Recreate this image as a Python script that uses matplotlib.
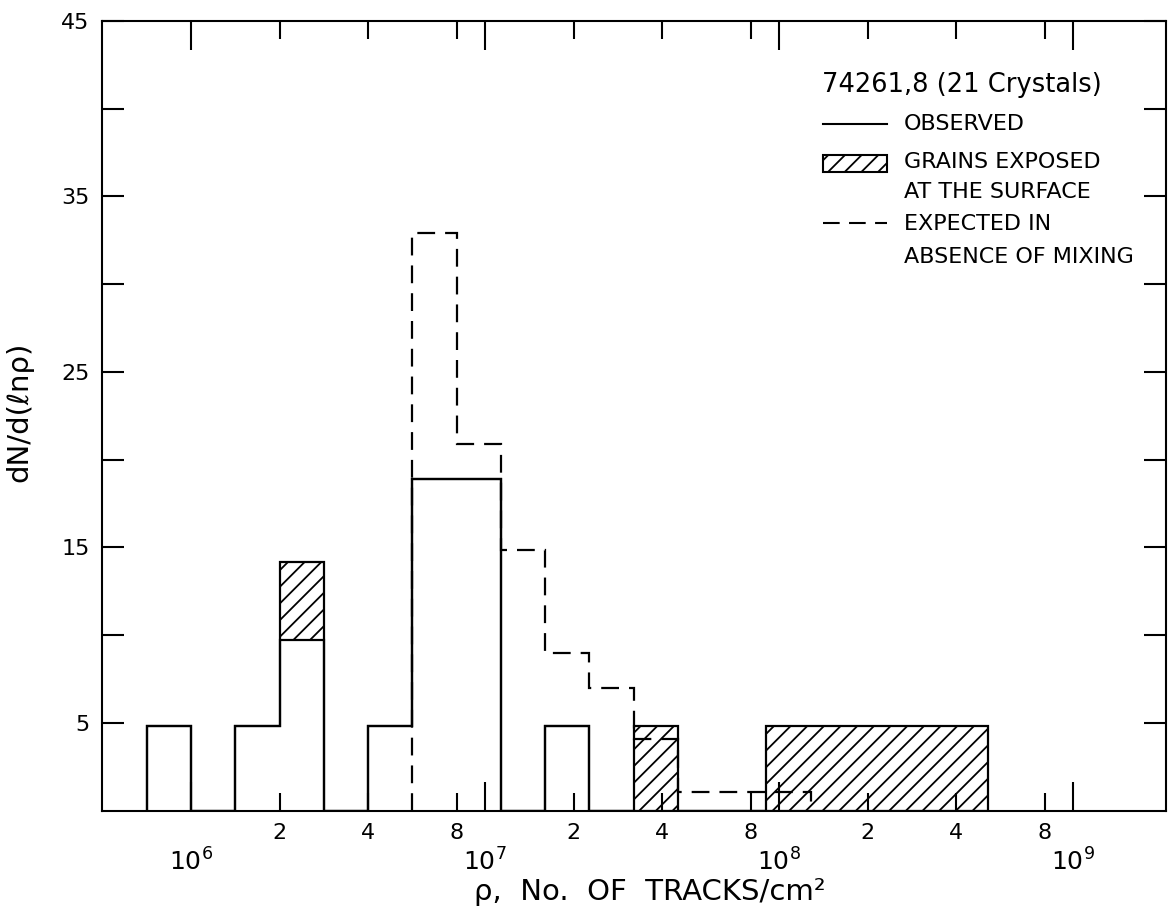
import numpy as np
import matplotlib.pyplot as plt
from matplotlib.lines import Line2D
from matplotlib.patches import Rectangle

plt.rcParams['font.family'] = ['DejaVu Sans']
plt.rcParams['hatch.linewidth'] = 1.3
plt.rcParams['hatch.color'] = 'black'

# histogram bins in track density (cm^-2), sqrt(2) spacing
bin_edges = [7.07e5, 1.0e6, 1.41e6, 2.0e6, 2.83e6, 4.0e6, 5.66e6, 8.0e6,
             1.13e7, 1.6e7, 2.26e7, 3.2e7, 4.53e7, 6.4e7, 9.05e7, 1.28e8,
             1.81e8, 2.56e8, 3.62e8, 5.12e8]
# observed grains (open part) and grains exposed at the surface (hatched part)
observed = [4.8, 0, 4.8, 9.7, 0, 4.8, 18.9, 18.9, 0, 4.8,
            0, 0, 0, 0, 0, 0, 0, 0, 0]
surface = [0, 0, 0, 4.5, 0, 0, 0, 0, 0, 0,
           0, 4.8, 0, 0, 4.8, 4.8, 4.8, 4.8, 4.8]
# expected in absence of mixing
expected_edges = bin_edges[6:16]
expected = [32.9, 20.9, 14.85, 9.0, 7.0, 4.1, 1.05, 1.05, 1.05]

major_x = [1e6, 1e7, 1e8, 1e9]
major_x_labels = [r'$10^{6}$', r'$10^{7}$', r'$10^{8}$', r'$10^{9}$']
minor_x = [2e6, 4e6, 8e6, 2e7, 4e7, 8e7, 2e8, 4e8, 8e8]
minor_x_labels = ['2', '4', '8', '2', '4', '8', '2', '4', '8']
major_y = [5, 15, 25, 35, 45]
minor_y = [10, 20, 30, 40]

W, H = 1171, 914
fig = plt.figure(figsize=(W / 100, H / 100), dpi=100)
ax = fig.add_axes([102 / W, 1 - 810.7 / H, 1064 / W, 789.7 / H])

total = np.array(observed) + np.array(surface)

# hatched part
ax.stairs(total, bin_edges, baseline=observed, fill=True, hatch='//',
          facecolor='none', edgecolor='black', linewidth=0)
# outlines
ax.stairs(total, bin_edges, baseline=0, color='black', linewidth=1.6)
ax.stairs(observed, bin_edges, baseline=0, color='black', linewidth=1.6)
ax.stairs(expected, expected_edges, baseline=0, color='black', linewidth=1.6,
          linestyle=(0, (8, 4.5)))

ax.set_xscale('log')
ax.set_xlim(4.98e5, 2.07e9)
ax.set_ylim(0, 45)

ax.set_xticks(major_x, labels=major_x_labels)
ax.set_xticks(minor_x, labels=minor_x_labels, minor=True)
ax.set_yticks(major_y)
ax.set_yticks(minor_y, minor=True)

ax.tick_params(axis='x', which='both', direction='in', top=True, bottom=True,
               width=1.5)
ax.tick_params(axis='x', which='major', length=21, pad=27, labelsize=18)
ax.tick_params(axis='x', which='minor', length=13, pad=9, labelsize=16)
ax.tick_params(axis='y', which='both', direction='in', left=True, right=True,
               length=16, width=1.5, pad=9, labelsize=16)
for s in ax.spines.values():
    s.set_linewidth(1.5)

ax.set_ylabel('dN/d(ℓnρ)', fontsize=21)
ax.yaxis.set_label_coords(-0.0648, 0.505)
ax.set_xlabel('ρ,  No.  OF  TRACKS/cm²', fontsize=21)
ax.xaxis.set_label_coords(0.515, -0.085)

# legend block
def fx(px):
    return px / W

def fy(py):
    return 1 - py / H

fig.text(fx(822), fy(85), '74261,8 (21 Crystals)', fontsize=18.5, va='center')
fig.add_artist(Line2D([fx(823), fx(887)], [fy(124), fy(124)],
                      color='black', linewidth=1.5))
fig.add_artist(Rectangle((fx(823), fy(172)), fx(887) - fx(823), fy(155) - fy(172),
                         fill=False, hatch='//', edgecolor='black', linewidth=1.5,
                         transform=fig.transFigure))
fig.add_artist(Line2D([fx(823), fx(887)], [fy(223), fy(223)],
                      color='black', linewidth=1.5, linestyle=(0, (8, 4.5))))
legend_lines = [('OBSERVED', 124), ('GRAINS EXPOSED', 162), ('AT THE SURFACE', 192),
                ('EXPECTED IN', 224), ('ABSENCE OF MIXING', 257)]
for txt, py in legend_lines:
    fig.text(fx(904), fy(py), txt, fontsize=16, va='center')

fig.savefig('out.png', dpi=100)
